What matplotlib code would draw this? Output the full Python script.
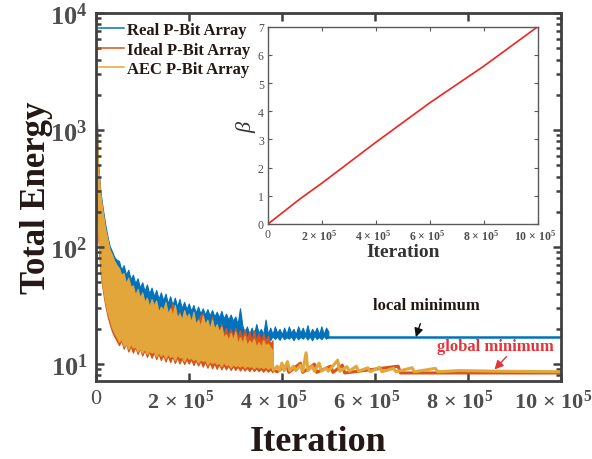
import numpy as np
import matplotlib
matplotlib.use("Agg")
import matplotlib.pyplot as plt
from matplotlib.ticker import FixedLocator, FuncFormatter, LogLocator, NullFormatter
from matplotlib.transforms import ScaledTranslation

plt.rcParams['font.family'] = ['Liberation Serif', 'DejaVu Serif']
plt.rcParams['mathtext.fontset'] = 'custom'
plt.rcParams['mathtext.rm'] = 'Liberation Serif:bold'
plt.rcParams['mathtext.bf'] = 'Liberation Serif:bold'
plt.rcParams['mathtext.it'] = 'Liberation Serif:italic'

# ---- data ----
# sampled iterations (thousands); at each sample the max / min energy of the noisy trace
iter_k = [0, 1, 2, 3, 4, 5, 10, 15, 20, 25, 30, 35, 40, 45, 50, 55, 60, 65, 70, 75, 80, 85, 90, 95,
          100, 105, 110, 115, 120, 125, 130, 135, 140, 145, 150, 155, 160, 165, 170, 175, 180,
          185, 190, 195, 200, 205, 210, 215, 220, 225, 230, 235, 240, 245, 250, 255, 260, 265,
          270, 275, 280, 285, 290, 295, 300, 305, 310, 315, 320, 325, 330, 335, 340, 345, 350,
          355, 360, 365, 370, 375, 380, 385, 390, 395, 400, 405, 410, 415, 420, 425, 430, 435,
          440, 445, 450, 455, 460, 465, 470, 475, 480, 485, 490, 495, 500]

real_hi = [3300, 2300, 1600, 1100, 750, 520, 300, 215, 160, 125, 102, 92, 82, 78,
           76, 64, 70, 58, 64, 53, 58, 49, 54, 45, 50,
           42, 48, 40, 45, 38, 43, 36, 41, 35, 40,
           33, 38, 32, 37, 31, 36, 30, 34, 29.5, 33,
           28.5, 32, 27.5, 31, 27, 30, 26.5, 29.5, 26, 29,
           25.5, 28, 25, 28.5, 24.5, 27, 24, 26.5, 23.5, 25.5,
           22, 30,
           21.5, 18.5, 21, 18, 20.5, 18, 22, 18.5, 20, 18, 24, 18, 20.5, 18, 21, 18.5, 20, 18, 20.5,
           18, 21, 18.5, 20, 18, 21, 18.5, 20.5, 18, 21.5, 18, 20, 18.5, 20.5, 18, 21, 18, 20.5, 19]
real_lo = [1900, 1050, 650, 380, 240, 150, 70, 50, 38, 30, 25, 22, 20, 18,
           17, 16, 15.5, 15, 14.8, 14.5, 14.6, 14, 14.3, 13.8, 14,
           13.5, 13.8, 13.2, 13.5, 13, 13.3, 12.8, 13.1, 12.6, 12.9,
           12.4, 12.7, 12.2, 12.5, 12, 12.3, 11.9, 12.2, 11.7, 12,
           11.6, 11.9, 11.5, 11.8, 11.4, 11.7, 11.2, 11.5, 11.1, 11.4,
           11, 11.3, 10.9, 11.2, 10.8, 11, 10.7, 11, 10.6, 10.9,
           11, 14,
           16.3, 17.3, 16.2, 17.5, 16, 17.2, 16.5, 17.4, 16.2, 17, 16.4, 17.5, 16, 17.3, 16.4, 17.2,
           16.1, 17.5, 16.3, 17, 16.5, 17.3, 16, 17.4, 16.3, 17.1, 16.5, 17.4, 16.2, 17.2, 16,
           17.5, 16.4, 17.1, 16.3, 17.4, 16.5, 17]
real_tail_k = [500, 1000]
real_tail = [17, 17]

ideal_hi = [3200, 2100, 1450, 950, 650, 470, 270, 190, 140, 112, 92, 84, 74, 68,
            62, 52, 56, 46, 50, 42, 45, 37, 41, 34, 38,
            31, 36, 30, 34, 28, 34, 27, 31, 26, 31,
            25, 29, 33, 27, 24, 28, 23, 27, 22.5, 26,
            21.5, 26, 21, 24, 26, 27, 20, 23.5, 19.5, 25.5,
            19, 21.5, 18.5, 22, 18, 20.5, 17.5, 20, 17, 20.5,
            17, 19.5, 16.5, 20, 16.5, 19, 16, 19.5, 16, 18.5,
            15.5, 18.5, 15.5, 17.5, 15, 16]
ideal_lo = [1700, 950, 560, 330, 200, 130, 62, 43, 32.5, 26, 22, 19, 17.2, 15.8,
            14.5, 16, 13.5, 15, 12.8, 14.2, 12.5, 14, 12.2, 13.6, 11.8,
            13.2, 11.5, 12.8, 11.3, 12.6, 11, 12.3, 10.8, 12, 10.5,
            11.8, 10.4, 11.6, 10.2, 11.4, 10.1, 11.2, 10, 11, 10.1,
            11, 9.8, 10.8, 9.7, 10.6, 9.5, 10.5, 9.3, 10.3, 9.2,
            10.1, 9.1, 10, 9.0, 9.8, 9.0, 9.7, 8.9, 9.6, 8.9,
            9.5, 8.8, 9.4, 8.8, 9.3, 8.7, 9.3, 8.7, 9.2, 8.7,
            9.1, 8.6, 9.1, 8.6, 9.0, 8.5]
ideal_tail_k = [380, 390, 410, 415, 440, 445, 470, 475, 505, 510, 530, 535, 650, 655, 1000]
ideal_tail = [9.0, 8.6, 9.8, 8.5, 10.2, 8.5, 10.0, 8.5, 9.6, 8.5, 9.8, 8.4, 9.6, 8.4, 8.4]

aec_hi = [3300, 2200, 1500, 1000, 700, 500, 280, 200, 146, 118, 95, 86, 76, 70,
          66, 58, 60, 49, 55, 46, 47, 39, 44, 37, 41,
          34, 37, 31, 36, 32, 35, 28, 31, 29, 34,
          27, 30, 26, 32, 25, 27, 24, 29, 25, 27,
          23, 28, 22, 24, 21, 26, 22, 24, 20, 24,
          20, 22, 19, 21, 17, 18, 16, 18.5, 16, 19,
          15, 17, 15, 17.5, 14.5, 16, 15, 16.5, 14, 15.5,
          14, 16, 14.5, 15, 14, 13]
aec_lo = [1800, 1000, 600, 350, 220, 140, 66, 46, 35, 28, 24, 20.5, 18.5, 17,
          15.5, 16.5, 14.2, 15, 13.5, 14.8, 13.8, 14.2, 12.8, 13.6, 12.5,
          13.6, 12.2, 13, 12.5, 12.8, 11.6, 12.6, 11.8, 12.4, 11.2,
          12.2, 11.5, 11.8, 10.8, 12, 11.4, 11.5, 10.6, 11.6, 11.1,
          11.3, 10.8, 11.2, 10.3, 11, 10.6, 10.9, 9.9, 10.6, 10.2,
          10.5, 10, 10.3, 9.6, 10.4, 9.8, 10, 9.4, 10, 9.6,
          9.8, 9.5, 9.9, 9.3, 9.7, 9.5, 9.6, 9.2, 9.6, 9.3,
          9.5, 9.2, 9.5, 9.1, 9.4, 9.0]
aec_tail_k = [380, 382, 390, 395, 400, 405, 412, 417, 425, 430, 440, 445, 452, 456, 465, 470,
              480, 485, 495, 500, 520, 524, 540, 545, 560, 565, 585, 590, 610, 615, 640, 645,
              680, 685, 730, 735, 780, 860, 1000]
aec_tail = [9.5, 8.9, 9.6, 8.8, 10.2, 8.8, 10.5, 8.8, 9.6, 8.8, 9.8, 8.7, 12.5, 8.8, 9.6, 8.7,
            10.2, 8.7, 9.3, 8.7, 10.8, 8.7, 9.5, 8.7, 9.6, 8.7, 9.3, 8.6, 9.4, 8.6, 9.2, 8.6,
            9.3, 8.6, 9.2, 8.6, 8.8, 8.7, 8.6]

beta_iter = [0, 1.2e5, 2e5, 4e5, 6e5, 8e5, 1e6]
beta_vals = [0, 0.9, 1.45, 2.9, 4.3, 5.6, 7]

x_ticks = [0, 2e5, 4e5, 6e5, 8e5, 1e6]
x_labels = ['0'] + [r'$\mathbf{%d\,\times\,10^{5}}$' % m for m in [2, 4, 6, 8, 10]]

iters = np.array(iter_k) * 1e3
series = [
    ('Real P-Bit Array', '#0072BD', real_hi, real_lo, real_tail_k, real_tail, 1.8),
    ('Ideal P-Bit Array', '#D95319', ideal_hi, ideal_lo, ideal_tail_k, ideal_tail, 2.2),
    ('AEC P-Bit Array', '#E3A63A', aec_hi, aec_lo, aec_tail_k, aec_tail, 2.2),
]

spine_c = '#404040'
tick_c = '#4d4d4d'

fig = plt.figure(figsize=(5.92, 4.6), dpi=100)
ax = fig.add_axes([0.1617, 0.170, 0.786, 0.7996])

for name, col, hi, lo, tk, tv, tlw in series:
    n = min(len(hi), len(lo))
    ax.fill_between(iters[:n], lo[:n], hi[:n], color=col, lw=0.8, edgecolor=col)
    ax.plot([], [], color=col, lw=1.1, label=name)
for name, col, hi, lo, tk, tv, tlw in series:
    ax.plot(np.array(tk) * 1e3, tv, color=col, lw=tlw)

ax.set_yscale('log')
ax.set_xlim(0, 1e6)
ax.set_ylim(7.2, 1e4)
ax.xaxis.set_major_locator(FixedLocator(x_ticks))
ax.set_xticklabels(x_labels)
ax.yaxis.set_major_locator(LogLocator(base=10, numticks=10))
ax.yaxis.set_minor_locator(LogLocator(base=10, subs=np.arange(2, 10), numticks=10))
ax.yaxis.set_minor_formatter(NullFormatter())
ax.yaxis.set_major_formatter(FuncFormatter(lambda v, p: r'$\mathbf{10^{%d}}$' % round(np.log10(v))))

for s in ax.spines.values():
    s.set_color(spine_c)
    s.set_linewidth(2)
ax.tick_params(which='both', direction='in', top=True, right=True, colors=spine_c,
               labelcolor=tick_c, width=1.8)
ax.tick_params(axis='x', labelsize=16)
ax.tick_params(axis='y', labelsize=19)
ax.tick_params(which='major', length=6, pad=6)
ax.tick_params(which='minor', length=3.5)
shift = ScaledTranslation(-8 / 100, 0, fig.dpi_scale_trans)
for lab in ax.get_xticklabels()[1:]:
    lab.set_transform(lab.get_transform() + shift)

ax.set_xlabel('Iteration', fontsize=26, fontweight='bold', color='#231815')
ax.xaxis.set_label_coords(0.478, -0.12)
ax.set_ylabel('Total Energy', fontsize=25, fontweight='bold', color='#231815', labelpad=-2)

leg = ax.legend(loc='upper left', bbox_to_anchor=(0.0, 0.984), frameon=False,
                handlelength=1.5, handletextpad=0.2, borderaxespad=0.0, borderpad=0.2,
                labelspacing=0.2, prop={'family': 'Liberation Serif', 'weight': 'bold', 'size': 12})
for t in leg.get_texts():
    t.set_color('#231815')

ax.annotate('local minimum', xy=(6.88e5, 17), xytext=(7.11e5, 32), ha='center', va='center',
            fontsize=12, fontweight='bold', color='#231815',
            arrowprops=dict(arrowstyle='-|>', color='#111111', lw=1.0, mutation_scale=13,
                            shrinkA=6, shrinkB=0))
ax.annotate('global minimum', xy=(8.57e5, 9.0), xytext=(8.58e5, 14.3), ha='center', va='center',
            fontsize=12, fontweight='bold', color='#E6333A',
            arrowprops=dict(arrowstyle='-|>', color='#E6333A', lw=1.0, mutation_scale=13,
                            shrinkA=0, shrinkB=0, relpos=(0.62, 0.0)))

# inset: beta schedule
ins = fig.add_axes([0.4527, 0.5109, 0.4556, 0.4289])
ins.plot(beta_iter, beta_vals, color='#F22222', lw=1.2)
ins.set_xlim(0, 1e6)
ins.set_ylim(0, 7)
ins.xaxis.set_major_locator(FixedLocator(x_ticks))
ins.set_xticklabels(x_labels)
ins.set_yticks(range(8))
for s in ins.spines.values():
    s.set_color('#5a5a5a')
    s.set_linewidth(1.0)
ins.tick_params(direction='in', top=True, right=True, length=3, width=0.8, colors='#5a5a5a',
                labelcolor=tick_c, labelsize=8.5, pad=3)
shift_in = ScaledTranslation(-3 / 100, 0, fig.dpi_scale_trans)
for lab in ins.get_xticklabels()[1:]:
    lab.set_transform(lab.get_transform() + shift_in)
ins.set_xlabel('Iteration', fontsize=14, fontweight='bold', color='#333333', labelpad=0)
ins.set_ylabel(r'$\beta$', fontsize=16, color='#333333', labelpad=0)

fig.savefig('out.png', dpi=100)
